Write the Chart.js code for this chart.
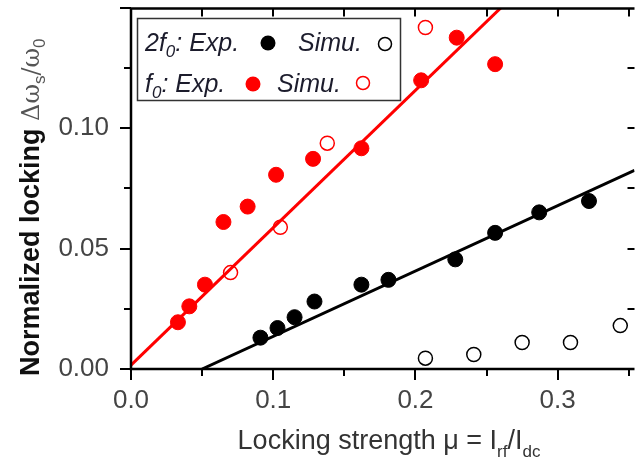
<!DOCTYPE html>
<html>
<head>
<meta charset="utf-8">
<script src="https://cdn.jsdelivr.net/npm/chart.js@4.4.0/dist/chart.umd.min.js"></script>
<style>
html, body { margin: 0; padding: 0; background: #fff; }
#wrap { width: 643px; height: 461px; }
</style>
</head>
<body>
<div id="wrap"><canvas id="mycanvas"></canvas></div>
<script>
// 2f0 experiment / simulation
var exp2fX = [0.091, 0.103, 0.115, 0.129, 0.162, 0.181, 0.228, 0.256, 0.287, 0.322];
var exp2fY = [0.013, 0.017, 0.0215, 0.028, 0.035, 0.037, 0.0455, 0.0565, 0.065, 0.0697];
var sim2fX = [0.207, 0.241, 0.275, 0.309, 0.344];
var sim2fY = [0.0045, 0.006, 0.011, 0.011, 0.018];
// f0 experiment / simulation
var expfX = [0.033, 0.041, 0.052, 0.065, 0.082, 0.102, 0.128, 0.162, 0.204, 0.229, 0.256];
var expfY = [0.0194, 0.026, 0.035, 0.061, 0.0674, 0.0806, 0.0872, 0.0916, 0.1198, 0.1375, 0.1265];
var simfX = [0.070, 0.105, 0.138, 0.207];
var simfY = [0.040, 0.0588, 0.0937, 0.1417];
// fitted lines (end points)
var fit2fX = [0.050, 0.354];
var fit2fY = [0, 0.0824];
var fitfX = [0, 0.262];
var fitfY = [0.0016, 0.151];

var xTicks = [0, 0.1, 0.2, 0.3];
var yTicks = [0, 0.05, 0.10];

function pts(xs, ys) {
	var out = [];
	for (var i in xs) out.push({x: xs[i], y: ys[i]});
	return out;
}

var FONT = '"Liberation Sans", Arial, sans-serif';

function drawParts(ctx, x, y, parts) {
	parts.forEach(function(p) {
		ctx.font = p.font;
		ctx.fillStyle = p.color || ctx.fillStyle;
		ctx.fillText(p.t, x, y + (p.dy || 0));
		x += ctx.measureText(p.t).width;
	});
	return x;
}

var framePlugin = {
	id: 'frame',
	afterDraw: function(chart) {
		var ctx = chart.ctx, a = chart.chartArea;
		var xs = chart.scales.x, ys = chart.scales.y;
		ctx.save();
		ctx.strokeStyle = '#000';
		ctx.lineWidth = 2.5;
		ctx.beginPath();
		ctx.moveTo(a.right, a.top); ctx.lineTo(a.left, a.top);
		ctx.lineTo(a.left, a.bottom); ctx.lineTo(a.right, a.bottom);
		ctx.stroke();
		ctx.lineWidth = 2;
		ctx.beginPath();
		for (var v = 0; v <= 0.36; v += 0.05) {
			var px = Math.round(xs.getPixelForValue(v));
			var major = Math.abs(v * 10 - Math.round(v * 10)) < 1e-6;
			ctx.moveTo(px, a.bottom); ctx.lineTo(px, a.bottom + (major ? 11 : 7));
			if (v > 0) { ctx.moveTo(px, a.top); ctx.lineTo(px, a.top + 8); }
		}
		for (var k = 0; k <= 6; k++) {
			var w = k * 0.025;
			var py = Math.round(ys.getPixelForValue(w));
			ctx.moveTo(a.left, py); ctx.lineTo(a.left - (k % 2 === 0 ? 11 : 7), py);
			if (k > 0 && k < 6) { ctx.moveTo(a.right, py); ctx.lineTo(a.right - 7, py); }
		}
		ctx.stroke();

		// axis titles
		ctx.textBaseline = 'alphabetic';
		ctx.fillStyle = '#333';
		var f27 = '27px ' + FONT, f17 = '17px ' + FONT;
		var xParts = [
			{t: 'Locking strength \u03bc = I', font: f27},
			{t: 'rf', font: f17, dy: 8},
			{t: '/I', font: f27},
			{t: 'dc', font: f17, dy: 8}
		];
		var wTot = 0;
		xParts.forEach(function(p) { ctx.font = p.font; wTot += ctx.measureText(p.t).width; });
		drawParts(ctx, 389 - wTot / 2, 449, xParts);

		ctx.translate(39, 376);
		ctx.rotate(-Math.PI / 2);
		var gy = '#555';
		drawParts(ctx, 0, 0, [
			{t: 'Normalized locking ', font: 'bold 27px ' + FONT, color: '#111'},
			{t: '\u0394\u03c9', font: '24px "DejaVu Serif", serif', color: gy},
			{t: 's', font: '17px ' + FONT, dy: 6, color: gy},
			{t: '/\u03c9', font: '24px "DejaVu Serif", serif', color: gy},
			{t: '0', font: '17px ' + FONT, dy: 6, color: gy}
		]);
		ctx.restore();

		// legend
		ctx.save();
		ctx.strokeStyle = '#333';
		ctx.lineWidth = 1.5;
		ctx.strokeRect(137.5, 18.5, 263, 82);
		ctx.fillStyle = '#1c1c2c';
		ctx.textBaseline = 'alphabetic';
		var it = 'italic 25px ' + FONT, its = 'italic 17px ' + FONT;
		drawParts(ctx, 145, 51, [{t: '2f', font: it}, {t: '0', font: its, dy: 6}, {t: ': Exp.', font: it}]);
		drawParts(ctx, 298, 51, [{t: 'Simu.', font: it}]);
		drawParts(ctx, 145, 92, [{t: 'f', font: it}, {t: '0', font: its, dy: 6}, {t: ': Exp.', font: it}]);
		drawParts(ctx, 277, 92, [{t: 'Simu.', font: it}]);
		function dot(x, y, r, col, filled) {
			ctx.beginPath();
			ctx.arc(x, y, r, 0, Math.PI * 2);
			if (filled) { ctx.fillStyle = col; ctx.fill(); }
			else { ctx.strokeStyle = col; ctx.lineWidth = 1.5; ctx.stroke(); }
		}
		dot(268, 43, 7.5, '#000', true);
		dot(385, 44, 6.5, '#000', false);
		dot(253, 84, 7.5, '#ff0000', true);
		dot(363, 83, 6.5, '#ff0000', false);
		ctx.restore();
	}
};

var chartdata = {
	datasets: [
		{ type: 'line', data: pts(fitfX, fitfY), borderColor: '#ff0000', borderWidth: 3, pointRadius: 0, fill: false, order: 5 },
		{ type: 'line', data: pts(fit2fX, fit2fY), borderColor: '#000', borderWidth: 3, pointRadius: 0, fill: false, order: 5 },
		{ data: pts(expfX, expfY), backgroundColor: '#ff0000', borderColor: '#ff0000', pointRadius: 7.5, borderWidth: 1, order: 1 },
		{ data: pts(simfX, simfY), backgroundColor: 'rgba(0,0,0,0)', borderColor: '#ff0000', pointRadius: 7, borderWidth: 1.5, order: 1 },
		{ data: pts(exp2fX, exp2fY), backgroundColor: '#000', borderColor: '#000', pointRadius: 7.5, borderWidth: 1, order: 1 },
		{ data: pts(sim2fX, sim2fY), backgroundColor: 'rgba(0,0,0,0)', borderColor: '#000', pointRadius: 7, borderWidth: 1.5, order: 1 }
	]
};

var ctx = document.getElementById('mycanvas');

var chart = new Chart(ctx, {
	type: 'scatter',
	data: chartdata,
	options: {
		responsive: true,
		maintainAspectRatio: false,
		animation: false,
		events: [],
		layout: { padding: { left: 0, top: 5, right: 0, bottom: 0 } },
		plugins: { legend: { display: false }, tooltip: { enabled: false } },
		scales: {
			x: {
				type: 'linear', min: 0, max: 0.354,
				grid: { display: false, drawTicks: false },
				border: { display: false },
				afterBuildTicks: function(s) { s.ticks = xTicks.map(function(v) { return {value: v}; }); },
				ticks: { padding: 16, color: '#444', font: { family: FONT, size: 26 },
					callback: function(v) { return Number(v).toFixed(1); } },
				afterFit: function(s) { s.height = 92; s.paddingLeft = 0; s.paddingRight = 0; }
			},
			y: {
				type: 'linear', min: 0, max: 0.1496,
				grid: { display: false, drawTicks: false },
				border: { display: false },
				afterBuildTicks: function(s) { s.ticks = yTicks.map(function(v) { return {value: v}; }); },
				ticks: { padding: 22, color: '#444', font: { family: FONT, size: 26 },
					callback: function(v) { return Number(v).toFixed(2); } },
				afterFit: function(s) { s.width = 131; s.paddingTop = 0; s.paddingBottom = 0; }
			}
		}
	},
	plugins: [framePlugin]
});
</script>
</body>
</html>
